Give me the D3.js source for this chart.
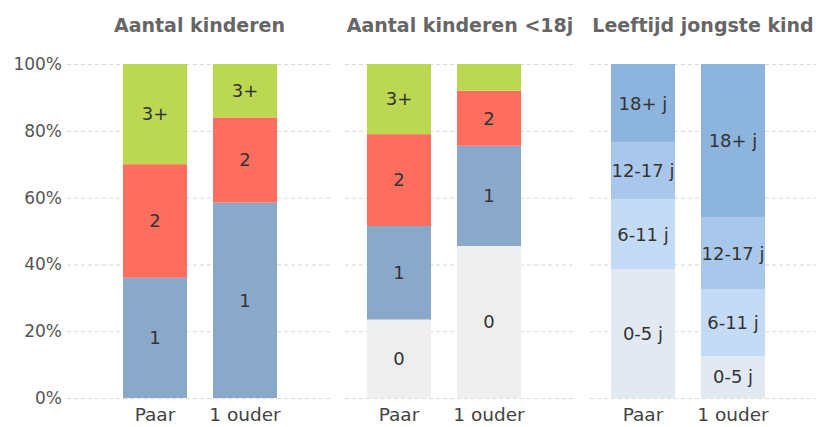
<!DOCTYPE html>
<html>
<head>
<meta charset="utf-8">
<script src="https://cdn.jsdelivr.net/npm/d3@7"></script>
<style>
    body { margin: 0; background: #fff; }
    svg text { font-family: "DejaVu Sans", Verdana, sans-serif; }
</style>
</head>
<body>
<svg id="chart" width="816" height="427"></svg>
<script>
// categories on x axis
var groups = ["Paar", "1 ouder"];

// panel titles
var titles = ["Aantal kinderen", "Aantal kinderen <18j", "Leeftijd jongste kind"];

// stack keys per panel (bottom to top)
var keys1 = ["1", "2", "3+"];
var keys2 = ["0", "1", "2", "3+"];
var keys3 = ["0-5 j", "6-11 j", "12-17 j", "18+ j"];

// values in percent, per group, in stack order
var kinderenPaar = [36, 34, 30];
var kinderenOuder = [58.5, 25.5, 16];
var onder18Paar = [23.5, 28, 27.5, 21];
var onder18Ouder = [45.5, 30, 16.5, 8];
var jongstePaar = [38.5, 21, 17, 23.5];
var jongsteOuder = [12.5, 20, 21.5, 46];

var yTicks = [0, 20, 40, 60, 80, 100];

var colors1 = ["#8aa8c9", "#fd6e5f", "#bcd752"];
var colors2 = ["#efefef", "#8aa8c9", "#fd6e5f", "#bcd752"];
var colors3 = ["#e2e9f3", "#c4dbf5", "#a8c7ea", "#8cb4dd"];

var panels = [
    {title: titles[0], keys: keys1, vals: [kinderenPaar, kinderenOuder], colors: colors1, x0: 110, gx0: 67, gx1: 332},
    {title: titles[1], keys: keys2, vals: [onder18Paar, onder18Ouder], colors: colors2, x0: 354, gx0: 345, gx1: 575},
    {title: titles[2], keys: keys3, vals: [jongstePaar, jongsteOuder], colors: colors3, x0: 598, gx0: 590, gx1: 816}
];

var svg = d3.select("#chart");

var y = d3.scaleLinear()
    .domain([0, 100])
    .range([398, 64]);

// y axis labels
svg.append("g")
    .selectAll("text")
    .data(yTicks)
    .enter().append("text")
    .attr("x", 62)
    .attr("y", function (d) { return y(d); })
    .attr("dy", "0.35em")
    .attr("text-anchor", "end")
    .attr("fill", "#555")
    .style("font-size", "17px")
    .text(function (d) { return d + "%"; });

panels.forEach(function (p) {
    var g = svg.append("g");

    var x = d3.scaleBand()
        .domain(groups)
        .range([p.x0, p.x0 + 180])
        .paddingInner(0.289)
        .paddingOuter(0.144);

    // dashed gridlines
    g.append("g")
        .selectAll("line")
        .data(yTicks)
        .enter().append("line")
        .attr("x1", p.gx0)
        .attr("x2", p.gx1)
        .attr("y1", function (d) { return y(d) + 0.5; })
        .attr("y2", function (d) { return y(d) + 0.5; })
        .style("stroke", "#dadada")
        .style("stroke-dasharray", "4,3");

    // build rows for d3.stack
    var rows = groups.map(function (grp, i) {
        var row = {group: grp};
        p.keys.forEach(function (k, j) { row[k] = p.vals[i][j]; });
        return row;
    });

    var series = d3.stack().keys(p.keys)(rows);

    var layer = g.selectAll(".layer")
        .data(series)
        .enter().append("g")
        .attr("fill", function (d, i) { return p.colors[i]; });

    layer.selectAll("rect")
        .data(function (d) { return d; })
        .enter().append("rect")
        .attr("x", function (d) { return x(d.data.group); })
        .attr("width", x.bandwidth())
        .attr("y", function (d) { return y(d[1]); })
        .attr("height", function (d) { return y(d[0]) - y(d[1]); });

    // segment labels (skip very small ones)
    layer.each(function (s) {
        d3.select(this).selectAll("text")
            .data(s.filter(function (d) { return d[1] - d[0] >= 10; }))
            .enter().append("text")
            .attr("x", function (d) { return x(d.data.group) + x.bandwidth() / 2; })
            .attr("y", function (d) { return y((d[0] + d[1]) / 2); })
            .attr("dy", "0.35em")
            .attr("text-anchor", "middle")
            .attr("fill", "#333")
            .style("font-size", "18px")
            .text(s.key);
    });

    // x axis labels
    g.append("g")
        .selectAll("text")
        .data(groups)
        .enter().append("text")
        .attr("x", function (d) { return x(d) + x.bandwidth() / 2; })
        .attr("y", 421)
        .attr("text-anchor", "middle")
        .attr("fill", "#444")
        .style("font-size", "18.5px")
        .text(function (d) { return d; });

    // title
    g.append("text")
        .attr("x", (p.gx0 + p.gx1) / 2)
        .attr("y", 32)
        .attr("text-anchor", "middle")
        .attr("fill", "#666")
        .style("font-size", "19px")
        .style("font-weight", "bold")
        .text(p.title);
});
</script>
</body>
</html>
